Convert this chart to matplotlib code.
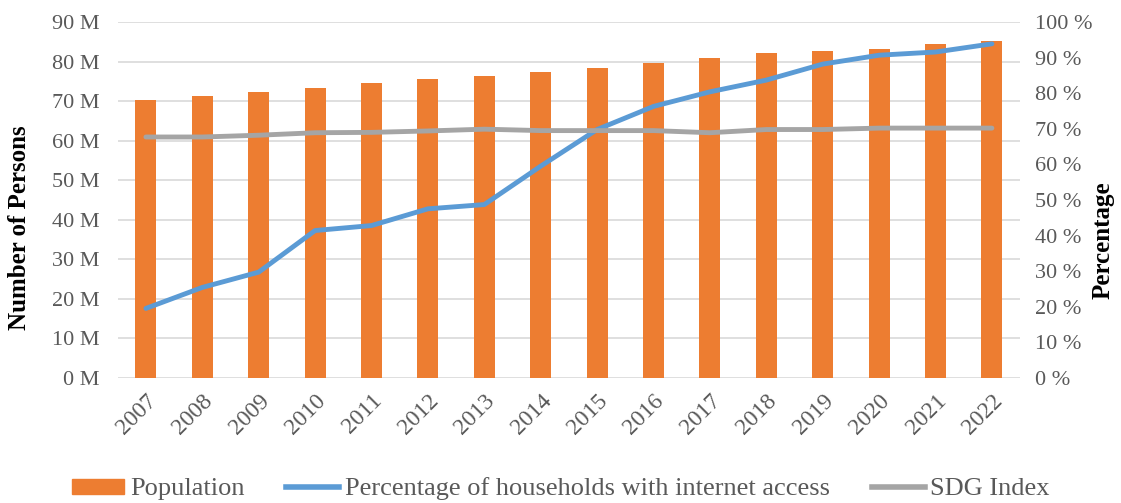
import matplotlib
matplotlib.use("Agg")
import matplotlib.pyplot as plt
from matplotlib.ticker import FuncFormatter, MultipleLocator
from matplotlib.patches import Patch
from matplotlib.lines import Line2D

years = [str(y) for y in range(2007, 2023)]
population_m = [70.3, 71.4, 72.2, 73.4, 74.7, 75.5, 76.3, 77.5,
                78.4, 79.6, 80.8, 82.1, 82.8, 83.2, 84.5, 85.3]
internet_pct = [19.5, 25.4, 29.7, 41.4, 42.8, 47.5, 48.7, 59.5,
                69.8, 76.3, 80.4, 83.7, 88.2, 90.7, 91.6, 93.9]
sdg_index = [67.7, 67.7, 68.2, 68.9, 69.0, 69.4, 69.9, 69.5,
             69.5, 69.5, 68.9, 69.8, 69.8, 70.2, 70.2, 70.2]

ORANGE = "#ED7D31"
BLUE = "#5B9BD5"
GRAY = "#A5A5A5"
TXT = "#595959"

plt.rcParams["font.family"] = ["Liberation Serif", "DejaVu Serif"]

W, H = 1121, 503
fig = plt.figure(figsize=(W / 100, H / 100), dpi=100)
ax = fig.add_axes([0.105, 0.249, 0.805, 0.707])
ax2 = ax.twinx()

x = list(range(len(years)))
ax.bar(x, population_m, width=0.37, color=ORANGE, zorder=2)
ax.set_ylim(0, 90)
ax.set_xlim(-0.5, len(years) - 0.5)
ax.yaxis.set_major_locator(MultipleLocator(10))
ax.yaxis.set_major_formatter(FuncFormatter(lambda v, p: f"{int(v)} M"))
ax.grid(axis="y", color="#D9D9D9", linewidth=1.2, zorder=0)
ax.set_axisbelow(True)

ax2.plot(x, internet_pct, color=BLUE, linewidth=3.5, solid_capstyle="round", zorder=3)
ax2.plot(x, sdg_index, color=GRAY, linewidth=3.5, solid_capstyle="round", zorder=3)
ax2.set_ylim(0, 100)
ax2.yaxis.set_major_locator(MultipleLocator(10))
ax2.yaxis.set_major_formatter(FuncFormatter(lambda v, p: f"{int(v)} %"))

for a in (ax, ax2):
    for s in a.spines.values():
        s.set_visible(False)
    a.tick_params(axis="both", length=0, labelsize=16, labelcolor=TXT)

ax.tick_params(axis="y", pad=13)
ax2.tick_params(axis="y", pad=11)
ax.set_xticks(x)
ax.set_xticklabels(years, rotation=45, ha="right", rotation_mode="anchor")
ax.tick_params(axis="x", pad=9, labelsize=17)

fig.text(20 / W, 1 - 228 / H, "Number of Persons", rotation=90, ha="center", va="center",
         fontsize=18, fontweight="bold", color="black")
fig.text(1103 / W, 1 - 240 / H, "Percentage", rotation=90, ha="center", va="center",
         fontsize=18, fontweight="bold", color="black")

handles = [
    Patch(facecolor=ORANGE, edgecolor=ORANGE),
    Line2D([0], [0], color=BLUE, linewidth=4),
    Line2D([0], [0], color=GRAY, linewidth=4),
]
labels = ["Population", "Percentage of households with internet access", "SDG Index"]
fig.legend(handles, labels, loc="center", bbox_to_anchor=(0.5, 0.028), ncol=3,
           frameon=False, fontsize=19, handlelength=2.0, handleheight=0.5,
           handletextpad=0.2, columnspacing=1.6, labelcolor=TXT)

fig.savefig("out.png", dpi=100)
